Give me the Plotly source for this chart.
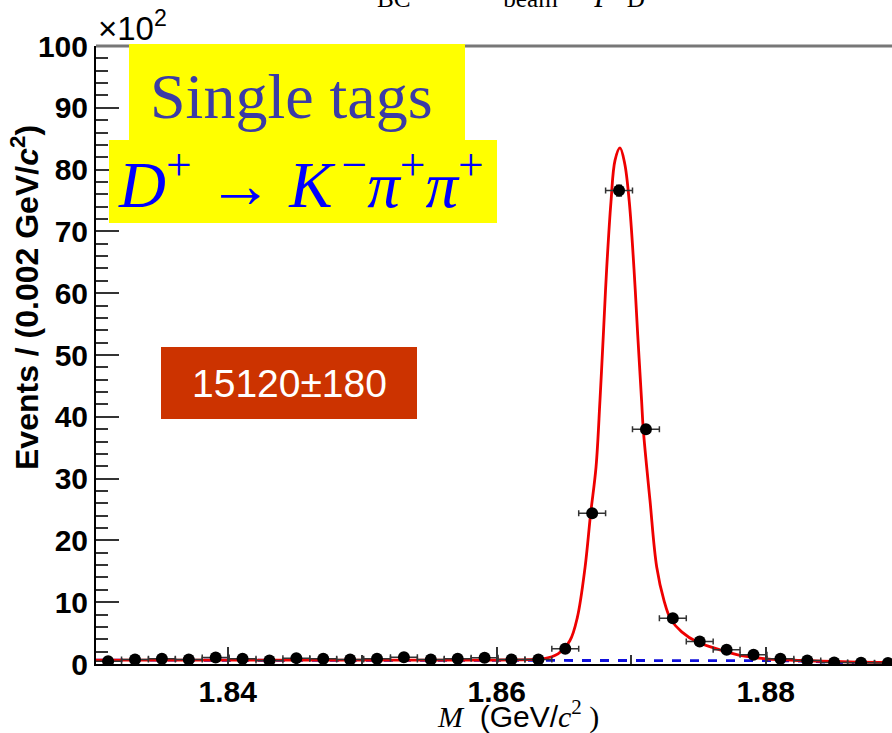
import plotly.graph_objects as go

# ---------------- data (values in units of 10^2 events) ----------------
bin_centers = [1.8311, 1.8331, 1.8351, 1.8371, 1.8391, 1.8411, 1.8431, 1.8451,
               1.8471, 1.8491, 1.8511, 1.8531, 1.8551, 1.8571, 1.8591, 1.8611,
               1.8631, 1.8651, 1.8671, 1.8691, 1.8711, 1.8731, 1.8751, 1.8771,
               1.8791, 1.8811, 1.8831, 1.8851, 1.8871, 1.8891]
counts = [0.46, 0.73, 0.84, 0.73, 1.05, 0.84, 0.57, 0.95, 0.84, 0.73, 0.84, 1.1,
          0.73, 0.84, 1.0, 0.73, 0.73, 2.46, 24.4, 76.6, 38.0, 7.4, 3.65, 2.3,
          1.49, 0.84, 0.57, 0.25, 0.2, 0.15]
count_err = [0.07, 0.09, 0.09, 0.09, 0.1, 0.09, 0.08, 0.1, 0.09, 0.09, 0.09, 0.1,
             0.09, 0.09, 0.1, 0.09, 0.09, 0.16, 0.49, 0.87, 0.62, 0.27, 0.19, 0.15,
             0.12, 0.09, 0.08, 0.05, 0.04, 0.04]
bin_half_width = [0.001] * len(bin_centers)

fit_x = [1.8302, 1.840, 1.850, 1.860, 1.8625, 1.86344, 1.86456, 1.86545, 1.86600,
         1.86657, 1.86699, 1.86739, 1.86768, 1.86793, 1.86818, 1.86850, 1.86880,
         1.86917, 1.86952, 1.86986, 1.87021, 1.87049, 1.87078, 1.87090, 1.87140,
         1.87190, 1.87244, 1.87293, 1.87376, 1.87492, 1.87661, 1.87810, 1.88008,
         1.88256, 1.88628, 1.8894]
fit_y = [0.62, 0.62, 0.62, 0.64, 0.72, 0.84, 1.65, 3.8, 7.55,
         15.6, 24.4, 31.9, 42.6, 53.2, 64.0, 74.8, 81.5,
         83.5, 81.0, 74.8, 64.0, 53.2, 42.5, 38.0, 26.5,
         15.7, 10.3, 7.3, 5.2, 3.55, 2.3, 1.38, 0.84,
         0.57, 0.35, 0.25]

bkg_x = [1.8302, 1.845, 1.860, 1.870, 1.875, 1.880, 1.883, 1.885, 1.886, 1.8866]
bkg_y = [0.62, 0.62, 0.62, 0.61, 0.6, 0.55, 0.45, 0.32, 0.18, 0.0]

x_ticks = [1.84, 1.86, 1.88]
x_tick_text = ["1.84", "1.86", "1.88"]
y_ticks = [0, 10, 20, 30, 40, 50, 60, 70, 80, 90, 100]

# ---------------- geometry helpers (pixel -> paper) ----------------
W, H = 892, 733
L, R, T, B = 96, 0, 46, 69
PW, PH = W - L - R, H - T - B


def px(x):
    return (x - L) / PW


def py(y):
    return (H - B - y) / PH


fig = go.Figure()

fig.add_trace(go.Scatter(
    x=bkg_x, y=bkg_y, mode="lines",
    line=dict(color="#1010DD", width=2.8, dash="dash"),
    hoverinfo="skip", showlegend=False))

fig.add_trace(go.Scatter(
    x=fit_x, y=fit_y, mode="lines", line_shape="spline",
    line=dict(color="#EE0000", width=2.8),
    hoverinfo="skip", showlegend=False))

fig.add_trace(go.Scatter(
    x=bin_centers, y=counts, mode="markers",
    marker=dict(color="black", size=12),
    error_x=dict(type="data", array=bin_half_width, color="#333333", thickness=1.5, width=3),
    error_y=dict(type="data", array=count_err, color="#333333", thickness=1.5, width=3),
    showlegend=False))

axis_font = dict(family="Liberation Sans", size=30, color="black", weight="bold")

fig.update_layout(
    width=W, height=H,
    margin=dict(l=L, r=R, t=T, b=B),
    paper_bgcolor="white", plot_bgcolor="white",
    xaxis=dict(range=[1.8302, 1.8894], tickvals=x_ticks, ticktext=x_tick_text,
               ticks="inside", ticklen=17, tickwidth=1.5, tickcolor="#333333",
               minor=dict(dtick=0.01, tick0=1.83, ticks="inside", ticklen=9,
                          tickwidth=1.5, tickcolor="#333333"),
               showgrid=False, zeroline=False, showline=True, linecolor="black",
               linewidth=2, tickfont=axis_font, automargin=False),
    yaxis=dict(range=[0, 100], tickvals=y_ticks,
               ticks="inside", ticklen=23, tickwidth=1.5, tickcolor="#333333",
               minor=dict(dtick=2, ticks="inside", ticklen=12, tickwidth=1.5,
                          tickcolor="#333333"),
               showgrid=False, zeroline=False, showline=True, linecolor="black",
               linewidth=2, tickfont=axis_font, automargin=False),
)

shapes = [
    dict(type="line", xref="paper", yref="paper", x0=0, x1=1, y0=1, y1=1,
         line=dict(color="#777777", width=3), layer="above"),
    dict(type="rect", xref="paper", yref="paper", x0=px(129), x1=px(465),
         y0=py(140), y1=py(44), fillcolor="#FFFF00", line=dict(width=0), layer="above"),
    dict(type="rect", xref="paper", yref="paper", x0=px(109), x1=px(497),
         y0=py(223), y1=py(140), fillcolor="#FFFF00", line=dict(width=0), layer="above"),
    dict(type="rect", xref="paper", yref="paper", x0=px(161), x1=px(417),
         y0=py(419), y1=py(347), fillcolor="#CC3300", line=dict(width=0), layer="above"),
]
fig.update_layout(shapes=shapes)

SERIF = "font-family:'Liberation Serif'"
ann = [
    dict(text="Single tags", x=px(291), y=py(97),
         font=dict(family="Liberation Serif", size=64, color="#3B3BA6")),
    dict(text="<i>D</i><sup>+</sup> → <i>K</i><sup>\u2009−</sup><i>π</i><sup>+</sup><i>π</i><sup>+</sup>",
         x=px(301), y=py(180), font=dict(family="Liberation Serif", size=65, color="#0000FF")),
    dict(text="15120±180", x=px(289), y=py(383),
         font=dict(family="Liberation Sans", size=39, color="white")),
    dict(text="Events / (0.002 GeV/<i>c</i><sup>2</sup>)", x=px(25), y=py(298), textangle=-90,
         font=dict(family="Liberation Sans", size=32, color="black", weight="bold")),
    dict(text=f"<span style=\"{SERIF}\"><i>M</i></span>  (GeV/<span style=\"{SERIF}\"><i>c</i><sup>2</sup> )</span>",
         x=px(518), y=py(714),
         font=dict(family="Liberation Sans", size=30, color="black")),
    dict(text="×10<sup>2</sup>", x=px(96), y=py(49), xanchor="left", yanchor="bottom",
         font=dict(family="Liberation Sans", size=33, color="black")),
    dict(text="<i>M</i><sub>BC</sub> = √<i>E</i><sup>2</sup><sub>beam</sub> − <i>p</i><sup>2</sup><sub>D</sub>",
         x=px(495), y=py(14), yanchor="bottom",
         font=dict(family="Liberation Serif", size=36, color="black")),
]
for a in ann:
    a.setdefault("xanchor", "center")
    a.setdefault("yanchor", "middle")
    a.update(xref="paper", yref="paper", showarrow=False)
fig.update_layout(annotations=ann)

fig.write_html("out.html", config={"displayModeBar": False},
               post_script="document.body.style.margin='0';")
